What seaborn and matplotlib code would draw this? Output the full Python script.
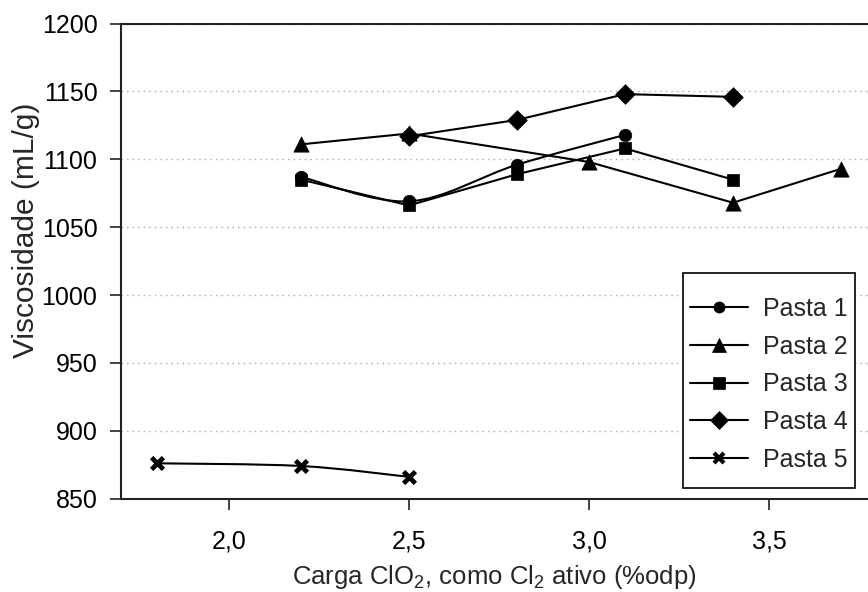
import numpy as np
import pandas as pd
import seaborn as sns
import matplotlib.pyplot as plt
from matplotlib.path import Path
from matplotlib.patches import PathPatch, Rectangle
from matplotlib.lines import Line2D

# Data
pastas = ['Pasta 1', 'Pasta 2', 'Pasta 3', 'Pasta 4', 'Pasta 5']
x_p1 = [2.2, 2.5, 2.8, 3.1]
y_p1 = [1087, 1069, 1096, 1118]
x_p2 = [2.2, 2.5, 3.0, 3.4, 3.7]
y_p2 = [1111, 1119, 1098, 1068, 1093]
x_p3 = [2.2, 2.5, 2.8, 3.1, 3.4]
y_p3 = [1085, 1066, 1089, 1108, 1085]
x_p4 = [2.5, 2.8, 3.1, 3.4]
y_p4 = [1117, 1129, 1148, 1146]
x_p5 = [1.8, 2.2, 2.5]
y_p5 = [876, 874, 866]

xticks = [2.0, 2.5, 3.0, 3.5]
xtick_labels = ['2,0', '2,5', '3,0', '3,5']
yticks = [850, 900, 950, 1000, 1050, 1100, 1150, 1200]

series = {
    'Pasta 1': (x_p1, y_p1),
    'Pasta 2': (x_p2, y_p2),
    'Pasta 3': (x_p3, y_p3),
    'Pasta 4': (x_p4, y_p4),
    'Pasta 5': (x_p5, y_p5),
}
# only some series are drawn as smoothed lines in the original
smoothed = {'Pasta 1': True, 'Pasta 2': False, 'Pasta 3': False,
            'Pasta 4': False, 'Pasta 5': True}
markers = {'Pasta 1': 'o', 'Pasta 2': '^', 'Pasta 3': 's', 'Pasta 4': 'D', 'Pasta 5': 'x'}
msizes = {'Pasta 1': 9, 'Pasta 2': 11, 'Pasta 3': 9, 'Pasta 4': 10, 'Pasta 5': 8.5}

df = pd.concat([pd.DataFrame({'carga': xs, 'visc': ys, 'pasta': name})
                for name, (xs, ys) in series.items()], ignore_index=True)

sns.set_style('white')
plt.rcParams['font.family'] = ['Liberation Sans', 'DejaVu Sans']
plt.rcParams['mathtext.fontset'] = 'custom'
plt.rcParams['mathtext.rm'] = 'Liberation Sans'

fig = plt.figure(figsize=(8.68, 5.92), dpi=100)
ax = fig.add_axes([0.1394, 0.1578, 0.8606, 0.8024])


def line_path(xs, ys, smooth):
    # smoothed: Catmull-Rom segments as cubic Bezier curves (Excel-like)
    pts = np.column_stack([xs, ys]).astype(float)
    n = len(pts)
    verts = [pts[0]]
    codes = [Path.MOVETO]
    for i in range(n - 1):
        if not smooth:
            verts.append(pts[i + 1])
            codes.append(Path.LINETO)
            continue
        p0 = pts[max(i - 1, 0)]
        p1 = pts[i]
        p2 = pts[i + 1]
        p3 = pts[min(i + 2, n - 1)]
        c1 = p1 + (p2 - p0) / 6.0
        c2 = p2 - (p3 - p1) / 6.0
        verts += [c1, c2, p2]
        codes += [Path.CURVE4] * 3
    return Path(verts, codes)


for name, (xs, ys) in series.items():
    ax.add_patch(PathPatch(line_path(xs, ys, smoothed[name]), facecolor='none',
                           edgecolor='black', lw=1.5, zorder=2))

for name in pastas:
    sub = df[df['pasta'] == name]
    if markers[name] == 'x':
        sns.scatterplot(data=sub, x='carga', y='visc', marker='x',
                        s=msizes[name] ** 2, color='black', linewidth=3.4,
                        ax=ax, zorder=3, legend=False)
    else:
        sns.scatterplot(data=sub, x='carga', y='visc', marker=markers[name],
                        s=msizes[name] ** 2, color='black', edgecolor='black',
                        linewidth=0.5, ax=ax, zorder=3, legend=False)

ax.set_xlim(1.7, 3.775)
ax.set_ylim(850, 1200)
ax.set_xticks(xticks)
ax.set_xticklabels(xtick_labels)
ax.set_yticks(yticks)
ax.grid(axis='y', color='#a8a8a8', linestyle=(0, (1, 3)), lw=1)
ax.grid(axis='x', visible=False)

for s in ['left', 'bottom', 'top']:
    ax.spines[s].set_color('#222222')
    ax.spines[s].set_linewidth(1.5)
ax.spines['right'].set_visible(False)
ax.tick_params(axis='both', direction='out', length=8, width=1.2,
               colors='#222222', labelcolor='black', labelsize=18,
               left=True, bottom=True)
ax.tick_params(axis='x', pad=14)
ax.tick_params(axis='y', pad=9)

ax.set_xlabel(r'Carga ClO$_\mathregular{2}$, como Cl$_\mathregular{2}$ ativo (%odp)',
              fontsize=18.5, labelpad=7)
ax.set_ylabel('Viscosidade (mL/g)', fontsize=21.5)
ax.yaxis.set_label_coords(-0.108, 0.565)

# legend frame drawn as its own box, legend entries centred inside
box = (0.752, 0.022, 0.231, 0.453)
ax.add_patch(Rectangle(box[:2], box[2], box[3], transform=ax.transAxes,
                       facecolor='white', edgecolor='black', lw=1.2, zorder=5))
handles = [Line2D([], [], color='black', lw=1.5, marker=markers[n],
                  markersize=msizes[n] - 1, markerfacecolor='black',
                  markeredgewidth=3 if markers[n] == 'x' else 0.5)
           for n in pastas]
leg = ax.legend(handles, pastas, loc='center',
                bbox_to_anchor=(box[0] + box[2] / 2, box[1] + box[3] / 2 - 0.008),
                bbox_transform=ax.transAxes, frameon=False, fontsize=18,
                handlelength=2.3, handletextpad=0.6, labelspacing=0.55,
                borderpad=0.2)
leg.set_zorder(6)

fig.savefig('out.png', dpi=100)
